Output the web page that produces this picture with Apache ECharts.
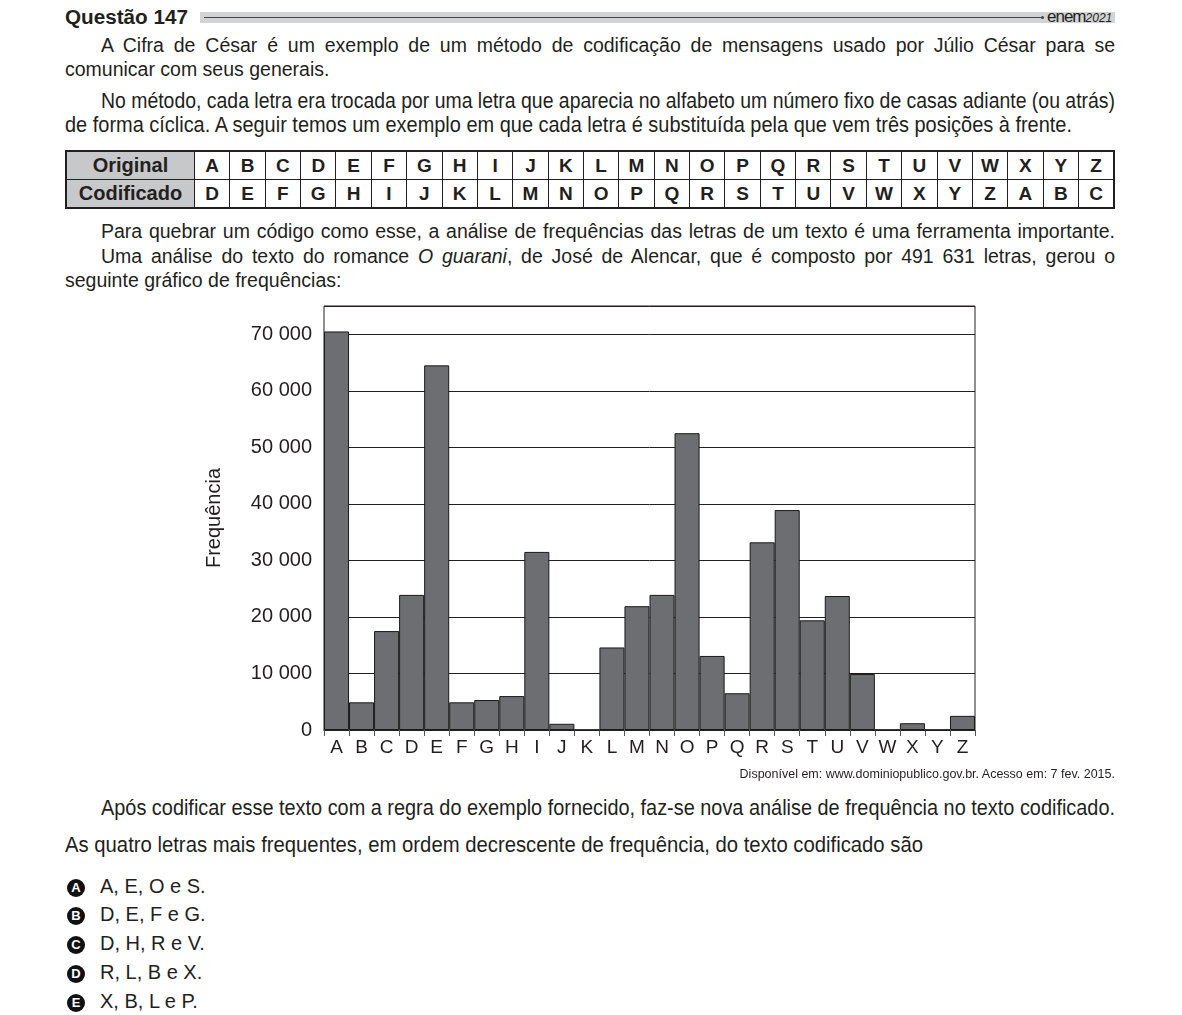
<!DOCTYPE html>
<html lang="pt">
<head>
    <meta charset="UTF-8">
    <title>Questão 147</title>
    <script src="https://cdn.jsdelivr.net/npm/echarts@6/dist/echarts.min.js"></script>
    <style>
        body { margin: 0; background: #fff; color: #231f20; font-family: "Liberation Sans", Arial, sans-serif; }
        .page { position: relative; width: 1182px; height: 1015px; overflow: hidden; }
        .ln { position: absolute; left: 65px; width: 1050px; height: 24px; line-height: 24px; font-size: 19.5px; white-space: nowrap; }
        .just { text-align: justify; text-align-last: justify; white-space: normal; }
        .ind { left: 101px; width: 1014px; }
        .sq { width: auto; font-size: 22px; transform-origin: 0 50%; }
        #head-title { position: absolute; left: 65px; top: 6px; font-size: 20px; font-weight: bold; transform-origin: 0 50%; }
        #head-band { position: absolute; left: 200px; top: 12px; width: 915px; height: 11px; background: #d2d3d5; }
        #head-line { position: absolute; left: 204px; top: 17px; width: 838px; height: 1px; background: #444; }
        #head-dot { position: absolute; left: 1041px; top: 16px; width: 3px; height: 3px; border-radius: 50%; background: #444; }
        #head-enem { position: absolute; left: 1047px; top: 7px; font-size: 17px; letter-spacing: -1px; }
        #head-enem i { font-size: 12px; letter-spacing: 0; }
        table.cif { position: absolute; left: 65px; top: 150px; width: 1050px; table-layout: fixed; border-collapse: collapse; border: 2px solid #231f20; }
        table.cif td { border: 1.5px solid #231f20; height: 27px; padding: 0; text-align: center; font-weight: bold; font-size: 19px; }
        table.cif td.hd { width: 127px; background: #c7c8ca; font-size: 20px; }
        #chart { position: absolute; left: 190px; top: 296px; width: 800px; height: 480px; }
        #fonte { position: absolute; right: 67px; top: 767px; font-size: 12.5px; }
        .opt { position: absolute; left: 67px; height: 24px; line-height: 24px; font-size: 20px; }
        .opt b { display: inline-block; width: 18px; height: 18px; line-height: 18px; border-radius: 50%; background: #111; color: #fff; font-size: 13px; text-align: center; vertical-align: 1px; margin-right: 15px; }
    </style>
</head>
<body>
<div class="page">
    <div id="head-title" class="fit" data-w="123">Questão 147</div>
    <div id="head-band"></div>
    <div id="head-line"></div>
    <div id="head-dot"></div>
    <div id="head-enem">enem<i>2021</i></div>

    <div class="ln just ind" style="top:33px">A Cifra de César é um exemplo de um método de codificação de mensagens usado por Júlio César para se</div>
    <div class="ln" style="top:57px">comunicar com seus generais.</div>

    <div class="ln ind sq fit" data-w="1014" style="top:89px">No método, cada letra era trocada por uma letra que aparecia no alfabeto um número fixo de casas adiante (ou atrás)</div>
    <div class="ln sq fit" data-w="1007" style="top:113px">de forma cíclica. A seguir temos um exemplo em que cada letra é substituída pela que vem três posições à frente.</div>

    <table class="cif">
        <tr id="row-orig"><td class="hd">Original</td></tr>
        <tr id="row-cod"><td class="hd">Codificado</td></tr>
    </table>

    <div class="ln just ind" style="top:219px">Para quebrar um código como esse, a análise de frequências das letras de um texto é uma ferramenta importante.</div>
    <div class="ln just ind" style="top:244px">Uma análise do texto do romance <i>O guarani</i>, de José de Alencar, que é composto por 491 631 letras, gerou o</div>
    <div class="ln" style="top:268px">seguinte gráfico de frequências:</div>

    <div id="chart"></div>
    <div id="fonte">Disponível em: www.dominiopublico.gov.br. Acesso em: 7 fev. 2015.</div>

    <div class="ln ind sq fit" data-w="1014" style="top:796px">Após codificar esse texto com a regra do exemplo fornecido, faz-se nova análise de frequência no texto codificado.</div>
    <div class="ln sq fit" data-w="858" style="top:833px">As quatro letras mais frequentes, em ordem decrescente de frequência, do texto codificado são</div>

    <div id="opts"></div>
</div>

<script type="text/javascript">
    // letras e frequências
    var letras = ['A','B','C','D','E','F','G','H','I','J','K','L','M','N','O','P','Q','R','S','T','U','V','W','X','Y','Z'];
    var freq = [70500, 4900, 17500, 23900, 64500, 4900, 5300, 6000, 31500, 1100, 0, 14600, 21900, 23900, 52500, 13100, 6500, 33200, 38900, 19400, 23700, 9900, 0, 1200, 0, 2500];
    var yTicks = [0, 10000, 20000, 30000, 40000, 50000, 60000, 70000];

    var opcoes = ['A, E, O e S.', 'D, E, F e G.', 'D, H, R e V.', 'R, L, B e X.', 'X, B, L e P.'];
    var opcoesTop = [874, 902, 931, 960, 989];

    // linhas em fonte estreita: sem Arial Narrow, comprime na horizontal
    document.querySelectorAll('.fit').forEach(function (el) {
        el.style.display = 'inline-block';
        var w = el.getBoundingClientRect().width;
        el.style.transform = 'scaleX(' + (+el.getAttribute('data-w') / w) + ')';
    });

    // tabela da cifra (deslocamento 3)
    var rowO = document.getElementById('row-orig');
    var rowC = document.getElementById('row-cod');
    letras.forEach(function (l, i) {
        var a = document.createElement('td'); a.textContent = l; rowO.appendChild(a);
        var b = document.createElement('td'); b.textContent = letras[(i + 3) % 26]; rowC.appendChild(b);
    });

    var optBox = document.getElementById('opts');
    opcoes.forEach(function (t, i) {
        var d = document.createElement('div');
        d.className = 'opt';
        d.style.top = opcoesTop[i] + 'px';
        d.innerHTML = '<b>' + 'ABCDE'[i] + '</b>' + t;
        optBox.appendChild(d);
    });

    function fmt(v) {
        if (yTicks.indexOf(v) < 0) return '';
        return String(v).replace(/\B(?=(\d{3})+(?!\d))/g, ' ');
    }

    var chart = echarts.init(document.getElementById('chart'));
    chart.setOption({
        animation: false,
        textStyle: { fontFamily: 'Liberation Sans' },
        grid: {
            left: 134, top: 10, width: 651, height: 424,
            show: true, borderColor: '#231f20', borderWidth: 1
        },
        xAxis: {
            type: 'category',
            data: letras,
            axisLine: { lineStyle: { color: '#231f20', width: 1 } },
            axisTick: { show: true, length: 6, interval: 0, lineStyle: { color: '#555' } },
            axisLabel: { color: '#231f20', fontSize: 19, margin: 8, interval: 0 }
        },
        yAxis: {
            type: 'value',
            min: 0, max: 75000, interval: 10000,
            name: 'Frequência',
            nameLocation: 'middle',
            nameGap: 100,
            nameRotate: 90,
            nameTextStyle: { color: '#231f20', fontSize: 20 },
            axisLine: { show: false },
            axisTick: { show: false },
            axisLabel: { color: '#231f20', fontSize: 20, margin: 12, formatter: fmt },
            splitLine: { lineStyle: { color: '#231f20', width: 1 } }
        },
        series: [{
            type: 'bar',
            data: freq,
            barCategoryGap: '0%',
            itemStyle: { color: '#6d6e71', borderColor: '#1a1a1a', borderWidth: 1 }
        }]
    });
</script>
</body>
</html>
